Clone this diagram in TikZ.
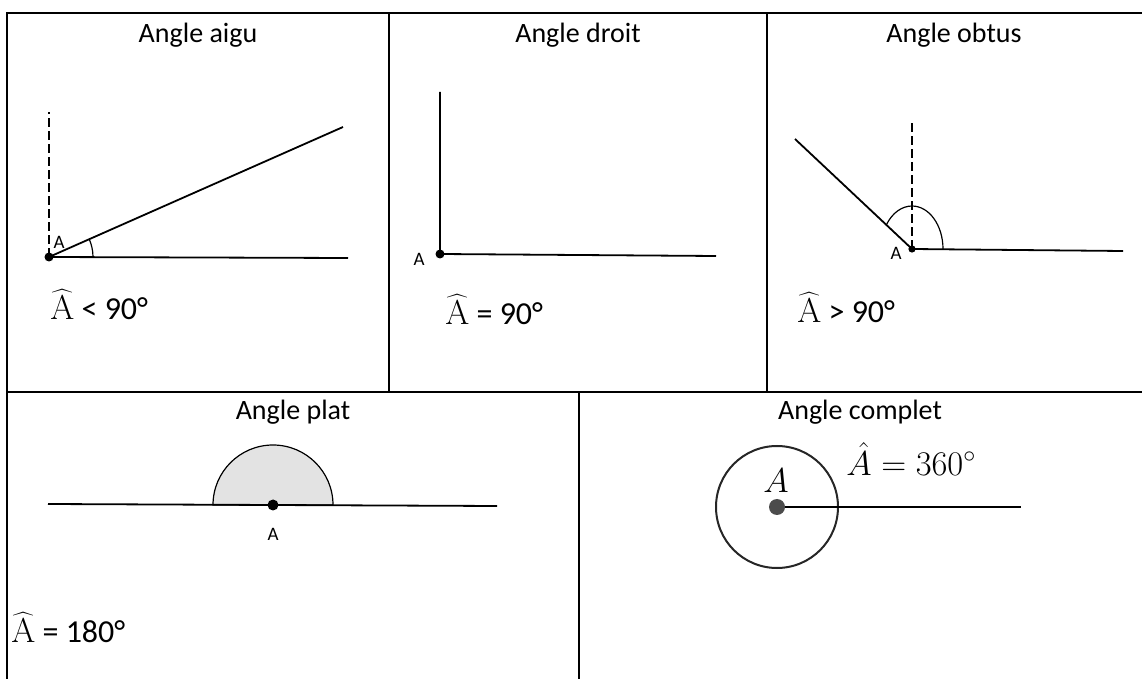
\documentclass[tikz,border=0pt]{standalone}
\usepackage[no-math]{fontspec}
\setmainfont{Carlito}
\usetikzlibrary{positioning}

\begin{document}
\begin{tikzpicture}[
  x=0.5pt, y=-0.5pt,
  tablerule/.style={line width=1.1pt},
  ray/.style={line width=0.9pt},
  guide/.style={line width=0.9pt, dash pattern=on 4.5pt off 2pt},
  arcline/.style={line width=0.6pt},
  vertex/.style={circle, fill=black, inner sep=0pt, minimum size=4.5pt},
  title/.style={font=\fontsize{14}{17}\selectfont},
  result/.style={font=\fontsize{16}{19}\selectfont, anchor=west, inner sep=0pt},
  ptlabel/.style={font=\fontsize{9.5}{11}\selectfont, inner sep=0pt}
]
  \useasboundingbox (0,0) rectangle (1142,679);

  % table
  \draw[tablerule] (1142,13) -| (7,679);
  \draw[tablerule] (7,392) -- (1142,392);
  \draw[tablerule] (389,13) -- (389,392);
  \draw[tablerule] (767,13) -- (767,392);
  \draw[tablerule] (579,392) -- (579,679);

  % angle aigu
  \node[title] (t1) at (198,35) {Angle aigu};
  \coordinate (A1) at (49,257);
  \coordinate (A1v) at (49,112);
  \coordinate (A1h) at (348,258);
  \coordinate (A1s) at (343,127);
  \draw[guide] (A1) -- (A1v);
  \draw[ray] (A1h) -- (A1) -- (A1s);
  \draw[arcline] ([xshift=22pt]A1) arc[start angle=0, end angle=-24, radius=44];
  \node[vertex] (p1) at (A1) {};
  \node[ptlabel] (l1) at (59,242) {A};
  \node[result] (r1) at (50,305) {$\widehat{\mathrm{A}}$ < 90°};

  % angle droit
  \node[title] (t2) at (578,35) {Angle droit};
  \coordinate (A2) at (440,254);
  \coordinate (A2v) at (440,92);
  \coordinate (A2h) at (716,256);
  \draw[ray] (A2v) -- (A2) -- (A2h);
  \node[vertex] (p2) at (A2) {};
  \node[ptlabel] (l2) at (419,259) {A};
  \node[result] (r2) at (445,310) {$\widehat{\mathrm{A}}$ = 90°};

  % angle obtus
  \node[title] (t3) at (954,35) {Angle obtus};
  \coordinate (A3) at (912,249);
  \coordinate (A3v) at (912,120);
  \coordinate (A3h) at (1123,251);
  \coordinate (A3s) at (795,139);
  \draw[guide] (A3) -- (A3v);
  \draw[ray] (A3s) -- (A3) -- (A3h);
  \draw[arcline] ([xshift=15.5pt]A3) arc[start angle=0, end angle=-145, x radius=31, y radius=43];
  \node[vertex, minimum size=3.6pt] (p3) at (A3) {};
  \node[ptlabel] (l3) at (896,253) {A};
  \node[result] (r3) at (797,308) {$\widehat{\mathrm{A}}$ > 90°};

  % angle plat
  \node[title] (t4) at (293,412) {Angle plat};
  \coordinate (A4) at (273,505);
  \coordinate (A4l) at (48,504);
  \coordinate (A4r) at (497,506);
  \draw[arcline, fill=black!11] ([xshift=-30pt]A4) arc[start angle=180, end angle=360, radius=60] -- cycle;
  \draw[ray] (A4l) -- (A4r);
  \node[vertex, minimum size=5.5pt] (p4) at (A4) {};
  \node[ptlabel] (l4) at (273,534) {A};
  \node[result] (r4) at (11,628) {$\widehat{\mathrm{A}}$ = 180°};

  % angle complet
  \node[title] (t5) at (860,412) {Angle complet};
  \coordinate (A5) at (777,507);
  \coordinate (A5h) at (1021,507);
  \draw[line width=1pt, black!85] (A5) circle[radius=61];
  \draw[ray] (A5) -- (A5h);
  \node[circle, fill=black!70, inner sep=0pt, minimum size=8pt] (p5) at (A5) {};
  \node[font=\fontsize{16}{19}\selectfont, inner sep=0pt] (l5) at (776,481) {$A$};
  \node[font=\fontsize{17}{19}\selectfont, anchor=west, inner sep=0pt] (r5) at (846,459) {$\hat{A} = 360^\circ$};
\end{tikzpicture}
\end{document}
